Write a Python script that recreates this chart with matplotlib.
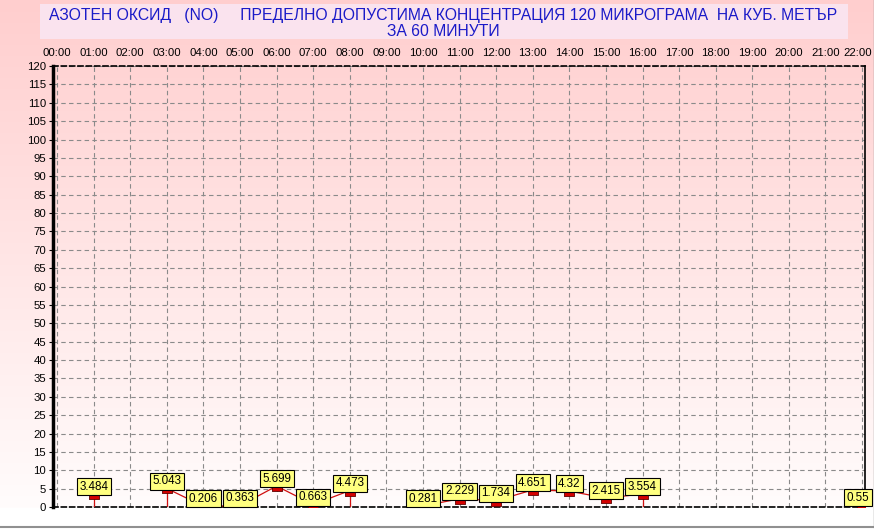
import numpy as np
import matplotlib
matplotlib.use('Agg')
import matplotlib.pyplot as plt
import matplotlib.transforms as mtransforms
from matplotlib.patches import Rectangle

plt.rcParams['font.family'] = ['Liberation Sans', 'DejaVu Sans']

# Hourly NO values (hour index -> value), missing hours are gaps
hours = [1, 3, 4, 5, 6, 7, 8, 10, 11, 12, 13, 14, 15, 16, 22]
values = [3.484, 5.043, 0.206, 0.363, 5.699, 0.663, 4.473,
          0.281, 2.229, 1.734, 4.651, 4.32, 2.415, 3.554, 0.55]
labels = ['3.484', '5.043', '0.206', '0.363', '5.699', '0.663', '4.473',
          '0.281', '2.229', '1.734', '4.651', '4.32', '2.415', '3.554', '0.55']
hour_ticks = ['%02d:00' % h for h in range(23)]
y_ticks = list(range(0, 121, 5))

title = ('АЗОТЕН ОКСИД   (NO)     ПРЕДЕЛНО ДОПУСТИМА КОНЦЕНТРАЦИЯ 120 МИКРОГРАМА  НА КУБ. МЕТЪР\n'
         'ЗА 60 МИНУТИ')

W, H = 874, 529
fig = plt.figure(figsize=(W / 100, H / 100), dpi=100)

# background gradient (pink at top -> white near the bottom of the plot)
bg = fig.add_axes([0, 0, 1, 1], zorder=-10)
bg.set_axis_off()
rows = np.linspace(0, 1, H)
grad = np.clip(rows / (507 / H), 0, 1)
top = np.array([255, 206, 206]) / 255
bot = np.array([255, 252, 252]) / 255
img = top[None, :] * (1 - grad[:, None]) + bot[None, :] * grad[:, None]
img[rows > 508 / H] = 1.0
img = np.repeat(img[:, None, :], 2, axis=1)
bg.imshow(img, aspect='auto', extent=[0, 1, 0, 1], origin='upper')
bg.set_xlim(0, 1)
bg.set_ylim(0, 1)
# bottom gray border
bg.plot([0, 1], [1 - 527 / H, 1 - 527 / H], color='#909090', lw=1.5)
bg.plot([1 - 0.5 / W, 1 - 0.5 / W], [1 - 527 / H, 1], color='#909090', lw=1)

# title box
bg.add_patch(Rectangle((40 / W, 1 - 39 / H), (848 - 40) / W, 35 / H,
                       facecolor='#fae3ee', edgecolor='none'))
bg.text(443 / W, 1 - 23.5 / H, title, ha='center', va='center', color='#1a1ac8',
        fontsize=11.3, linespacing=1.1)

# main plot
x0, x1, y0, y1 = 53, 865, 66, 507
ax = fig.add_axes([x0 / W, 1 - y1 / H, (x1 - x0) / W, (y1 - y0) / H])
ax.patch.set_alpha(0)
ax.set_xlim(-0.11, 22.08)
ax.set_ylim(0, 120)

ax.set_xticks(range(23))
ax.set_xticklabels(hour_ticks)
ax.xaxis.tick_top()
ax.tick_params(axis='x', length=0, pad=6, labelsize=8.2)
ax.set_yticks(y_ticks)
ax.tick_params(axis='y', length=3, pad=2, labelsize=8.2, width=0.8)
# keep the last hour label inside the figure
last = ax.get_xticklabels()[-1]
last.set_transform(last.get_transform() +
                   mtransforms.ScaledTranslation(-4 / 100, 0, fig.dpi_scale_trans))

ax.grid(True, color='#8a8a8a', linestyle=(0, (4, 3)), linewidth=0.8)
ax.set_axisbelow(True)

ax.spines['left'].set_linewidth(2.5)
ax.spines['right'].set_linewidth(1.2)
for s in ('top', 'bottom'):
    ax.spines[s].set_linestyle((0, (3, 2)))
    ax.spines[s].set_linewidth(1.2)

# series with gaps
full_x = np.arange(23)
full_y = np.full(23, np.nan)
for h, v in zip(hours, values):
    full_y[h] = v
ax.plot(full_x, full_y, color='#d01010', lw=0.9, zorder=3)

# drop lines where a neighbour is missing
for h, v in zip(hours, values):
    left_gap = h == 0 or np.isnan(full_y[h - 1])
    right_gap = h == 22 or np.isnan(full_y[h + 1])
    if left_gap or right_gap:
        ax.plot([h, h], [0, v], color='#d01010', lw=0.9, zorder=3)

marker = [(-1, -0.9), (1, -0.9), (1, 0), (-1, 0), (-1, -0.9)]
ax.plot(hours, values, linestyle='none', marker=marker, markersize=7.5,
        markerfacecolor='#d40000', markeredgecolor='#600000', markeredgewidth=0.6,
        zorder=4)

for h, v, lab in zip(hours, values, labels):
    xt = h - 0.12 if h == 22 else h
    ax.annotate(lab, (xt, v), xytext=(0, 1.0), textcoords='offset points',
                ha='center', va='bottom', fontsize=8.4, zorder=6,
                annotation_clip=False,
                bbox=dict(boxstyle='square,pad=0.22', facecolor='#ffff80',
                          edgecolor='black', linewidth=0.8))

fig.savefig('out.png', dpi=100)
